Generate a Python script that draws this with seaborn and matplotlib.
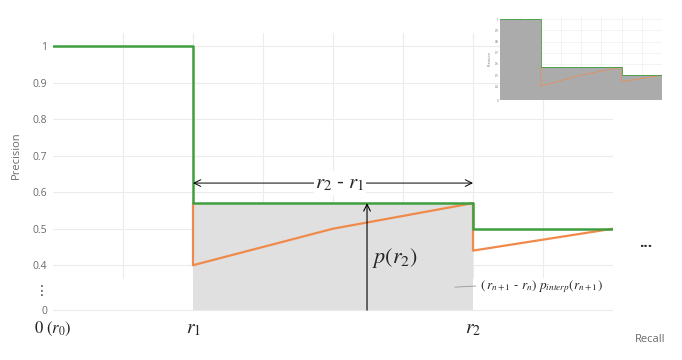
import numpy as np
import pandas as pd
import matplotlib
matplotlib.use("Agg")
import matplotlib.pyplot as plt
import seaborn as sns

# ---- data ----
recall_interp = [0.0, 0.2, 0.2, 0.6, 0.6, 0.8]
prec_interp = [1.0, 1.0, 0.57, 0.57, 0.5, 0.5]
recall_raw = [0.2, 0.2, 0.4, 0.6, 0.6, 0.8]
prec_raw = [0.57, 0.4, 0.5, 0.57, 0.44, 0.5]
area_recall = [0.2, 0.6]
area_prec = [0.57, 0.57]
ytick_vals = [0, 0.4, 0.5, 0.6, 0.7, 0.8, 0.9, 1.0]
ytick_labels = ["0", "0.4", "0.5", "0.6", "0.7", "0.8", "0.9", "1"]
xtick_vals = [0.0, 0.2, 0.6]
xtick_labels = [r"$\mathrm{0}\ (r_0)$", r"$r_1$", r"$r_2$"]
xgrid_vals = [0.1, 0.2, 0.3, 0.4, 0.5, 0.6, 0.7]

sns.set_theme(style="white")
plt.rcParams["font.family"] = ["Open Sans", "DejaVu Sans"]
plt.rcParams["mathtext.fontset"] = "stix"

GREEN = "#3f9e3f"
ORANGE = "#f08a4b"
GRID = "#ececec"
TXT = "#6a6a6a"

K = 0.308


def fwd(v):
    v = np.asarray(v, dtype=float)
    return np.where(v >= 0.4, v, 0.4 - (0.4 - v) * K)


def inv(p):
    p = np.asarray(p, dtype=float)
    return np.where(p >= 0.4, p, 0.4 - (0.4 - p) / K)


df_i = pd.DataFrame({"recall": recall_interp, "precision": prec_interp})
df_r = pd.DataFrame({"recall": recall_raw, "precision": prec_raw})

fig = plt.figure(figsize=(6.82, 3.6), dpi=100)
ax = fig.add_axes([53 / 682, 1 - 312 / 360, 560 / 682, 279 / 360])
ax.set_yscale("function", functions=(fwd, inv))

ax.fill_between(area_recall, area_prec, 0, color="#e0e0e0", lw=0, zorder=1)
ax.vlines(xgrid_vals, 0.283, 1.04, color=GRID, lw=0.8, zorder=0)
sns.lineplot(data=df_r, x="recall", y="precision", sort=False, estimator=None,
             color=ORANGE, lw=1.6, ax=ax, zorder=3)
sns.lineplot(data=df_i, x="recall", y="precision", sort=False, estimator=None,
             color=GREEN, lw=1.8, ax=ax, zorder=4)

ax.set_xlim(0, 0.8)
ax.set_ylim(-0.016, 1.036)
ax.set_yticks(ytick_vals)
ax.set_yticklabels(ytick_labels, color=TXT, fontsize=7.5)
ax.set_xticks(xtick_vals)
ax.set_xticklabels(xtick_labels, fontsize=14, color="#222222")
ax.get_xticklabels()[0].set_fontsize(12)
ax.tick_params(axis="both", length=0)
ax.tick_params(axis="x", pad=6)
ax.tick_params(axis="y", pad=4)
ax.grid(axis="y", color=GRID, lw=0.8)
ax.set_axisbelow(True)
for s in ax.spines.values():
    s.set_visible(False)
ax.set_xlabel("")
ax.set_ylabel("Precision", color=TXT, fontsize=8)
ax.yaxis.set_label_coords(-0.055, 0.563)

# annotations
ax.annotate("", xy=(0.2, 0.625), xytext=(0.6, 0.625),
            arrowprops=dict(arrowstyle="<->", color="black", lw=0.7,
                            shrinkA=0, shrinkB=0), zorder=5)
ax.text(0.41, 0.625, r"$r_2\ \text{-}\ r_1$", fontsize=15, ha="center", va="center",
        bbox=dict(facecolor="white", edgecolor="none", pad=1), zorder=6)
ax.annotate("", xy=(0.4486, 0.57), xytext=(0.4486, 0.0),
            arrowprops=dict(arrowstyle="->", color="black", lw=0.8,
                            shrinkA=0, shrinkB=0), zorder=5)
ax.text(0.455, 0.42, r"$p(r_2)$", fontsize=16, ha="left", va="center", zorder=6)
ax.plot([0.574, 0.604], [0.205, 0.215], color="#999999", lw=0.6, zorder=5)
ax.text(0.61, 0.212, r"$(\,r_{n+1}$ - $r_n)\ p_{interp}(r_{n+1})$",
        fontsize=9.5, ha="left", va="center", zorder=6)
ax.text(0.846, 0.46, "...", fontsize=11, fontweight="bold", ha="center",
        va="center", clip_on=False)
ax.text(-0.016, 0.17, "⋮", fontsize=10, ha="center", va="center", color="#444444",
        clip_on=False, family="DejaVu Sans")
fig.text(650 / 682, 1 - 340 / 360, "Recall", color=TXT, fontsize=8,
         ha="center", va="center")

# inset
axi = fig.add_axes([500 / 682, 1 - 100 / 360, 162 / 682, 83 / 360])
axi.set_yscale("function", functions=(fwd, inv))
axi.fill_between(recall_interp, prec_interp, 0, color="#ababab", lw=0, zorder=1)
sns.lineplot(data=df_r, x="recall", y="precision", sort=False, estimator=None,
             color=ORANGE, lw=0.5, ax=axi, zorder=3)
sns.lineplot(data=df_i, x="recall", y="precision", sort=False, estimator=None,
             color=GREEN, lw=0.6, ax=axi, zorder=4)
axi.set_xlim(0, 0.8)
axi.set_ylim(0, 1.02)
axi.set_yticks(ytick_vals)
axi.set_yticklabels(ytick_labels, fontsize=2, color=TXT)
axi.set_xticks(xgrid_vals)
axi.set_xticklabels([])
axi.tick_params(length=0, pad=1)
axi.grid(color="#eeeeee", lw=0.5)
axi.set_axisbelow(True)
for s in axi.spines.values():
    s.set_visible(False)
axi.set_xlabel("")
axi.set_ylabel("Precision", fontsize=2.5, color=TXT, labelpad=2)

fig.savefig("out.png", dpi=100)
